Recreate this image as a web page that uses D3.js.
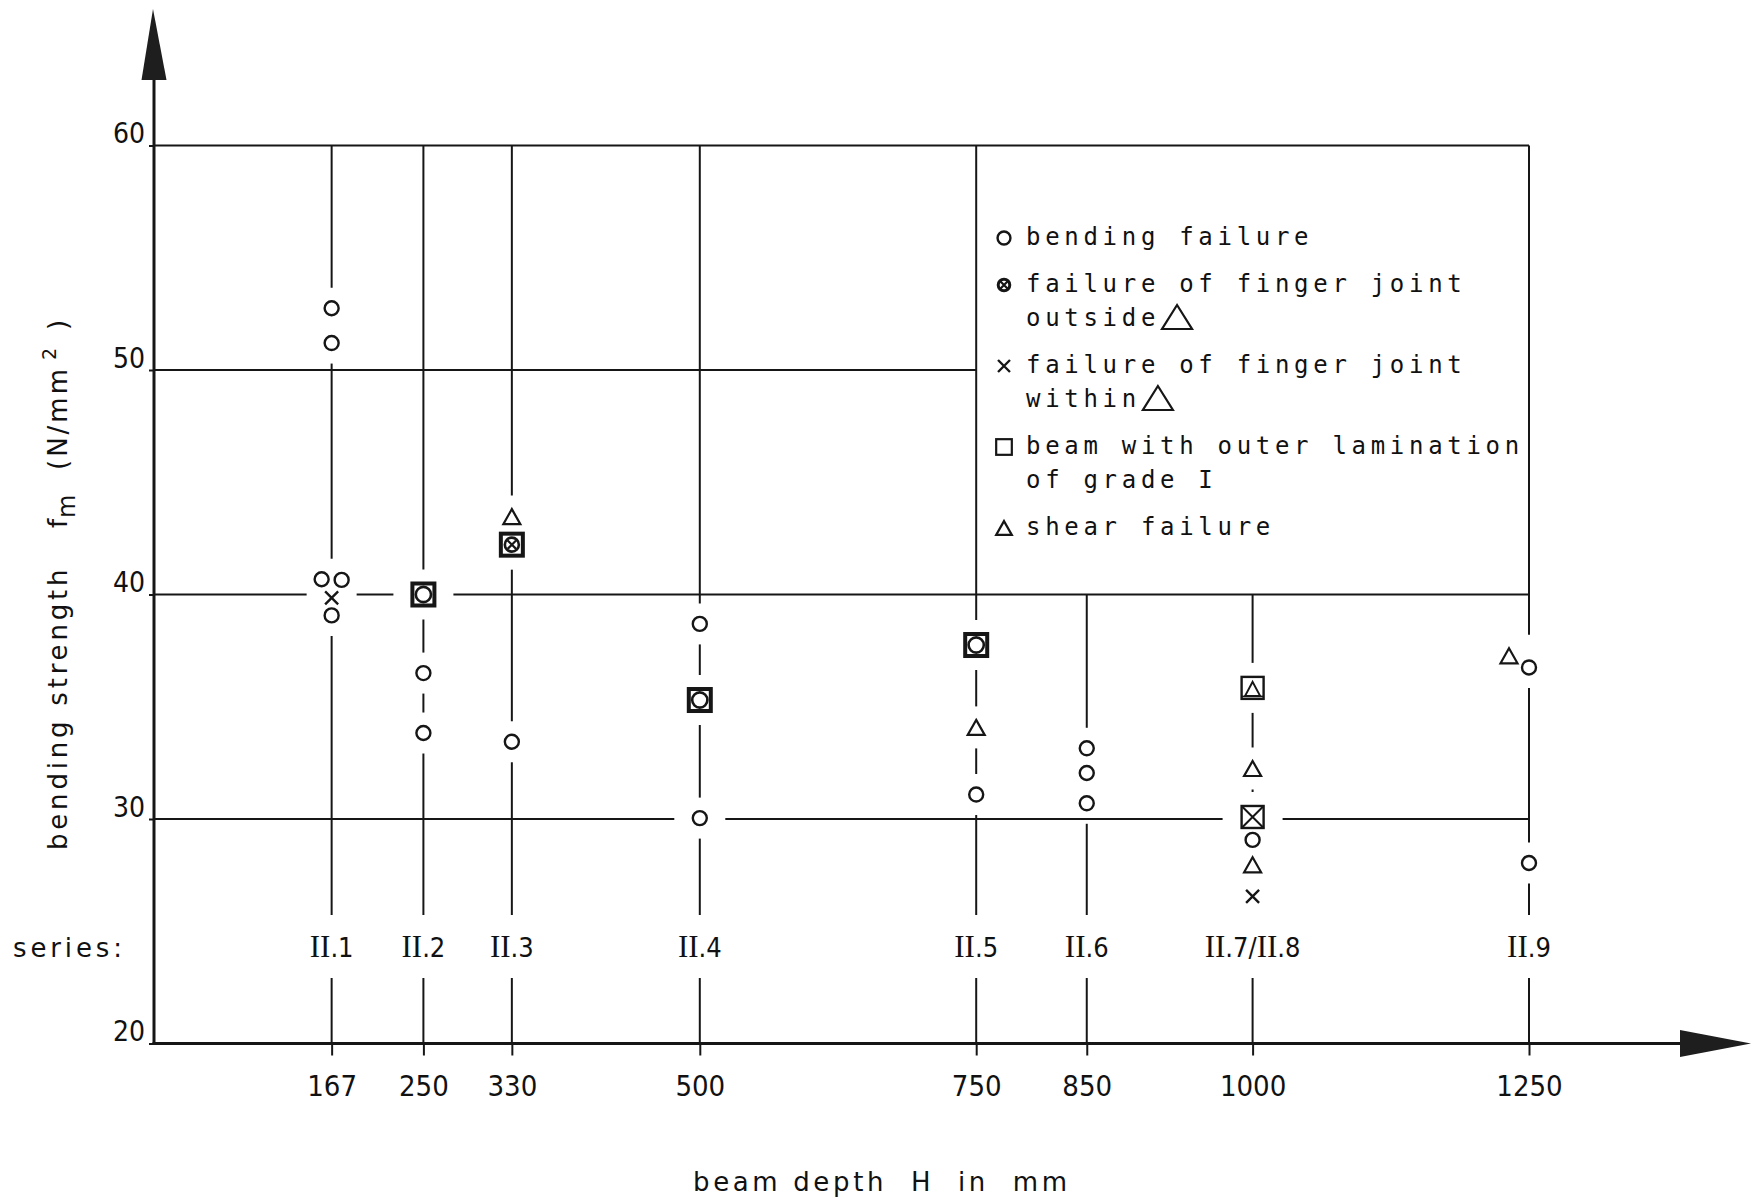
<!DOCTYPE html>
<html><head><meta charset="utf-8">
<script src="https://cdn.jsdelivr.net/npm/d3@7"></script>
<style>
html,body{margin:0;padding:0;background:#fff;}
svg{display:block;}
</style></head>
<body>
<svg id="chart" width="1754" height="1203"></svg>
<script>
// ---------------- data ----------------
const depths = [167, 250, 330, 500, 750, 850, 1000, 1250];
const seriesLabels = ["II.1", "II.2", "II.3", "II.4", "II.5", "II.6", "II.7/II.8", "II.9"];
const yTickValues = [20, 30, 40, 50, 60];
const gridValues = [30, 40, 50, 60];
// [beam depth H (mm), bending strength f_m (N/mm2), outer lamination of grade I (1 = yes)]
const bendingFailure = [
  [167, 52.75, 0], [167, 51.2, 0], [167, 40.68, 0], [167, 40.65, 0], [167, 39.07, 0],
  [250, 40.0, 1], [250, 36.5, 0], [250, 33.83, 0],
  [330, 33.44, 0],
  [500, 38.69, 0], [500, 35.3, 1], [500, 30.04, 0],
  [750, 37.75, 1], [750, 31.09, 0],
  [850, 33.15, 0], [850, 32.05, 0], [850, 30.7, 0],
  [1000, 29.07, 0],
  [1250, 36.75, 0], [1250, 28.04, 0]
];
const fingerJointOutside = [[330, 42.22, 1]];
const fingerJointWithin = [[167, 39.85, 0], [1000, 30.09, 1], [1000, 26.55, 0]];
const shearFailure = [
  [330, 43.47, 0], [750, 34.08, 0], [1000, 35.84, 1], [1000, 32.25, 0], [1000, 27.96, 0], [1250, 37.27, 0]
];
const legendTypes = ["bending", "outside", "within", "grade", "shear"];
const legendLabels = [
  ["bending failure"],
  ["failure of finger joint", "outside"],
  ["failure of finger joint", "within"],
  ["beam with outer lamination", "of grade I"],
  ["shear failure"]
];
const legendBigTriangle = [false, true, true, false, false];
const seriesTitle = "series:";
const xTitle = "beam depth  H  in  mm";
const yTitleMain = "bending strength";

// ---------------- layout ----------------
const W = 1754, H = 1203;
const INK = "#161616";
const svg = d3.select("#chart");
svg.append("rect").attr("width", W).attr("height", H).attr("fill", "#fff");

const x = d3.scaleLinear().domain([0, 1250]).range([147, 1529]);
const y = d3.scaleLinear().domain([20, 60]).range([1043.5, 145.5]);
const axisX = 154, axisY = y(20);
const legendX0 = x(750), legendX1 = x(1250), legendY0 = y(60), legendY1 = y(40);
const LABEL_Y = 957;
const PADV = 13, PADH = 18;
const condensed = "'DejaVu Sans Condensed', 'DejaVu Sans', sans-serif";

// ---------------- markers ----------------
const half = {bending: 7.5, outside: 7.5, within: 7, shear: 8};
const sets = [["bending", bendingFailure], ["outside", fingerJointOutside], ["within", fingerJointWithin], ["shear", shearFailure]];
const markers = [];
sets.forEach(([t, arr]) => arr.forEach(([d, v, g]) => markers.push({type: t, depth: d, value: v, grade: !!g})));
markers.forEach(m => { m.half = m.grade ? 12 : half[m.type]; m.px = x(m.depth); m.py = y(m.value); m.dx = 0; });
// side-by-side placement of overlapping marks
d3.group(markers, m => m.depth).forEach(list => {
  list.sort((a, b) => a.py - b.py);
  const clusters = []; let cur = [list[0]];
  for (let i = 1; i < list.length; i++) {
    const p = cur[cur.length - 1], m = list[i];
    if (m.py - p.py < p.half + m.half - 1) cur.push(m); else { clusters.push(cur); cur = [m]; }
  }
  clusters.push(cur);
  clusters.forEach(c => {
    const bend = c.filter(m => m.type === "bending");
    if (c.length > 1 && bend.length === 1) {
      // keep the single bending-failure mark on the line, move the others aside
      let k = 1;
      c.forEach(m => { m.dx = (m === bend[0]) ? 0 : -20 * k++; });
    } else {
      c.forEach((m, i) => { m.dx = (i - (c.length - 1) / 2) * 20; });
    }
  });
});

function segments(a, b, gaps) {
  gaps = gaps.filter(g => g[1] > a && g[0] < b).sort((p, q) => p[0] - q[0]);
  const out = []; let cur = a;
  for (const [g0, g1] of gaps) { if (g0 > cur) out.push([cur, g0]); cur = Math.max(cur, g1); }
  if (cur < b) out.push([cur, b]);
  return out;
}

const lines = svg.append("g").attr("stroke", INK).attr("stroke-width", 2).attr("stroke-linecap", "butt");

// vertical series lines
depths.forEach(d => {
  const px = x(d);
  const top = (d > 750 && d < 1250) ? legendY1 : legendY0;
  const gaps = markers.filter(m => m.depth === d).map(m => [m.py - m.half - PADV, m.py + m.half + PADV]);
  gaps.push([LABEL_Y - 42, LABEL_Y + 21]);
  segments(top, axisY, gaps).forEach(([a, b]) =>
    lines.append("line").attr("x1", px).attr("x2", px).attr("y1", a).attr("y2", b));
});

// horizontal grid lines
gridValues.forEach(v => {
  const gy = y(v);
  const x1 = (v > 40 && v < 60) ? legendX0 : legendX1;
  const gaps = markers.filter(m => Math.abs(m.py - gy) < m.half + 6)
    .map(m => [m.px + m.dx - m.half - PADH, m.px + m.dx + m.half + PADH]);
  segments(axisX, x1, gaps).forEach(([a, b]) =>
    lines.append("line").attr("x1", a).attr("x2", b).attr("y1", gy).attr("y2", gy));
});

// symbols
function triPath(w, h) { return `M0,${-h / 2}L${w / 2},${h / 2}L${-w / 2},${h / 2}Z`; }
function drawSymbol(g, sym, sc) {
  sc = sc || 1;
  if (sym === "o") {
    g.append("circle").attr("r", 7 * sc).attr("fill", "#fff").attr("stroke", INK).attr("stroke-width", 2.4);
  } else if (sym === "ox") {
    g.append("circle").attr("r", 6.3 * sc).attr("fill", "#fff").attr("stroke", INK).attr("stroke-width", 3);
    const k = 4 * sc;
    g.append("path").attr("d", `M${-k},${-k}L${k},${k}M${-k},${k}L${k},${-k}`).attr("stroke", INK).attr("stroke-width", 2.2);
  } else if (sym === "x") {
    const k = 6.5 * sc;
    g.append("path").attr("d", `M${-k},${-k}L${k},${k}M${-k},${k}L${k},${-k}`).attr("stroke", INK).attr("stroke-width", 2.4);
  } else if (sym === "tri") {
    g.append("path").attr("d", triPath(17 * sc, 15 * sc)).attr("fill", "#fff").attr("stroke", INK).attr("stroke-width", 2.2);
  } else if (sym === "sq") {
    const s = 17 * sc;
    g.append("rect").attr("x", -s / 2).attr("y", -s / 2).attr("width", s).attr("height", s)
      .attr("fill", "#fff").attr("stroke", INK).attr("stroke-width", 2.2);
  }
}
const symOf = {bending: "o", outside: "ox", within: "x", shear: "tri", grade: "sq"};

function drawMarker(g, m) {
  if (!m.grade) { drawSymbol(g, symOf[m.type]); return; }
  const s = 22;
  const heavy = (m.type === "bending" || m.type === "outside");
  g.append("rect").attr("x", -s / 2).attr("y", -s / 2).attr("width", s).attr("height", s)
    .attr("fill", "#fff").attr("stroke", INK).attr("stroke-width", heavy ? 4 : 2.4);
  if (m.type === "bending") {
    g.append("circle").attr("r", 7.6).attr("fill", "#fff").attr("stroke", INK).attr("stroke-width", 2.6);
  } else if (m.type === "outside") {
    g.append("circle").attr("r", 7).attr("fill", "#fff").attr("stroke", INK).attr("stroke-width", 2.6);
    g.append("path").attr("d", "M-4.2,-4.2L4.2,4.2M-4.2,4.2L4.2,-4.2").attr("stroke", INK).attr("stroke-width", 2.2);
  } else if (m.type === "within") {
    const k = s / 2;
    g.append("path").attr("d", `M${-k},${-k}L${k},${k}M${-k},${k}L${k},${-k}`).attr("stroke", INK).attr("stroke-width", 2);
  } else if (m.type === "shear") {
    g.append("path").attr("d", triPath(15, 14)).attr("transform", "translate(0,1)")
      .attr("fill", "none").attr("stroke", INK).attr("stroke-width", 2);
    g.append("line").attr("x1", -s / 2).attr("x2", s / 2).attr("y1", 8.5).attr("y2", 8.5).attr("stroke", INK).attr("stroke-width", 1.6);
  }
}
const mg = svg.append("g");
markers.forEach(m => drawMarker(mg.append("g").attr("transform", `translate(${m.px + m.dx},${m.py})`), m));

// ---------------- axes ----------------
const xAxis = d3.axisBottom(x).tickValues(depths).tickSize(12).tickPadding(20).tickFormat(d3.format("d"));
const gx = svg.append("g").attr("transform", `translate(0,${axisY})`).call(xAxis);
gx.select(".domain").remove();
gx.selectAll(".tick line").attr("stroke", INK).attr("stroke-width", 2);
gx.selectAll(".tick text").attr("font-family", condensed).attr("font-stretch", "condensed")
  .attr("font-size", 29).attr("fill", "#111");

const yAxis = d3.axisLeft(y).tickValues(yTickValues).tickSize(5).tickPadding(4);
const gy = svg.append("g").attr("transform", `translate(${axisX},0)`).call(yAxis);
gy.select(".domain").remove();
gy.selectAll(".tick line").attr("stroke", INK).attr("stroke-width", 2);
gy.selectAll(".tick text").attr("font-family", condensed).attr("font-stretch", "condensed")
  .attr("font-size", 28).attr("fill", "#111").attr("dy", "-0.1em");

// axis lines with arrows
svg.append("line").attr("x1", axisX).attr("x2", axisX).attr("y1", axisY + 1.5).attr("y2", 78)
  .attr("stroke", INK).attr("stroke-width", 3);
svg.append("path").attr("d", `M${axisX - 12.5},80L${axisX - 1},9L${axisX + 12.5},80Z`).attr("fill", "#1e1e1e");
svg.append("line").attr("x1", axisX - 1.5).attr("x2", 1682).attr("y1", axisY).attr("y2", axisY)
  .attr("stroke", INK).attr("stroke-width", 3);
svg.append("path").attr("d", `M1680,${axisY - 13.5}L1751,${axisY}L1680,${axisY + 13.5}Z`).attr("fill", "#1e1e1e");

// series labels
const labG = svg.append("g").attr("fill", "#111").attr("text-anchor", "middle");
depths.forEach((d, i) => {
  const t = labG.append("text").attr("x", x(d)).attr("y", LABEL_Y);
  seriesLabels[i].split(/(II)/).filter(s => s.length).forEach(part => {
    if (part === "II") t.append("tspan").attr("font-family", "'Liberation Serif', serif").attr("font-size", 31).text(part);
    else t.append("tspan").attr("font-family", condensed).attr("font-stretch", "condensed").attr("font-size", 27).text(part);
  });
});
svg.append("text").attr("x", 13).attr("y", LABEL_Y).attr("font-family", "'DejaVu Sans', sans-serif")
  .attr("font-size", 26).attr("fill", "#111").attr("textLength", 109).attr("lengthAdjust", "spacing").text(seriesTitle);

// x title
svg.append("text").attr("x", 693).attr("y", 1191).attr("font-family", "'DejaVu Sans', sans-serif")
  .attr("font-size", 26).attr("fill", "#111").style("white-space", "pre")
  .attr("textLength", 374).attr("lengthAdjust", "spacing").text(xTitle);

// y title (rotated)
const yt = svg.append("text").attr("transform", "translate(67,850) rotate(-90)")
  .attr("font-family", "'DejaVu Sans', sans-serif").attr("font-size", 26).attr("fill", "#111")
  .attr("letter-spacing", 3.8);
yt.append("tspan").attr("x", 0).text(yTitleMain);
yt.append("tspan").attr("x", 322).text("f");
yt.append("tspan").attr("x", 332).attr("dy", 8).attr("font-size", 24).text("m");
yt.append("tspan").attr("x", 380).attr("dy", -8).attr("letter-spacing", 3).text("(N/mm");
yt.append("tspan").attr("x", 490).attr("dy", -11).attr("font-size", 19).text("2");
yt.append("tspan").attr("x", 520).attr("dy", 11).text(")");

// ---------------- legend ----------------
const lg = svg.append("g");
const LX_SYM = 1004, LX_TEXT = 1026;
let baseline = 245;
legendLabels.forEach((rows, i) => {
  drawSymbol(lg.append("g").attr("transform", `translate(${LX_SYM},${baseline - 7})`), symOf[legendTypes[i]], 0.92);
  rows.forEach((row, j) => {
    const t = lg.append("text").attr("x", LX_TEXT).attr("y", baseline)
      .attr("font-family", "'DejaVu Sans Mono', monospace").attr("font-size", 24).attr("fill", "#111")
      .attr("letter-spacing", 4.7).style("white-space", "pre").text(row);
    if (legendBigTriangle[i] && j === rows.length - 1) {
      const len = t.node().getComputedTextLength();
      const tx = LX_TEXT + len + 2 + 15;
      lg.append("path").attr("d", triPath(30, 24)).attr("transform", `translate(${tx},${baseline - 9})`)
        .attr("fill", "none").attr("stroke", INK).attr("stroke-width", 2.2).attr("stroke-linejoin", "miter");
    }
    if (j < rows.length - 1) baseline += 34;
  });
  baseline += 47;
});
</script>
</body></html>
